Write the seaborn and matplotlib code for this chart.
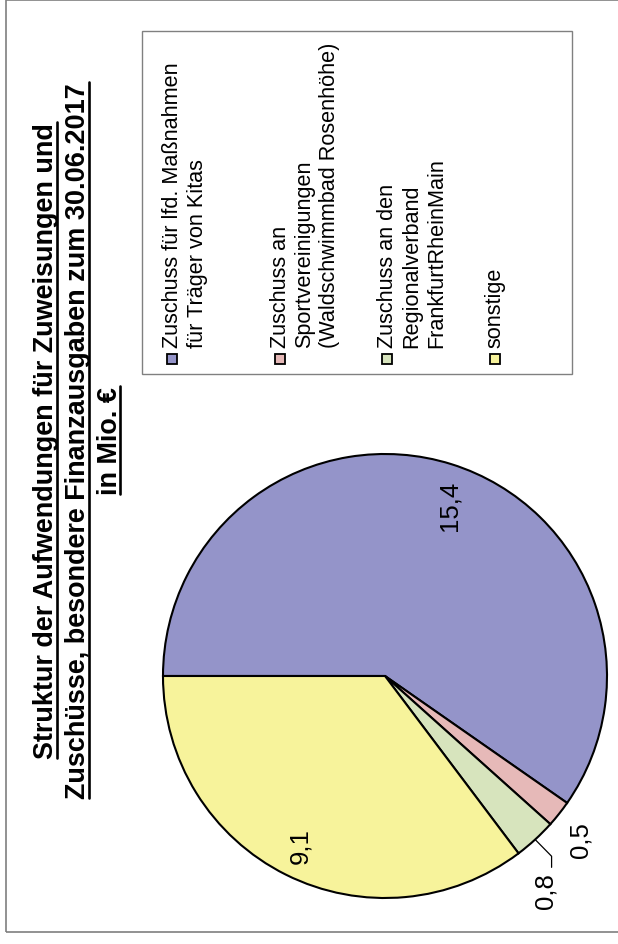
import matplotlib
matplotlib.use("Agg")
import matplotlib.pyplot as plt
import seaborn as sns
import numpy as np
from matplotlib.patches import Rectangle
from matplotlib.lines import Line2D
from matplotlib import font_manager

# ---------------- data ----------------
categories = [
    "Zuschuss für lfd. Maßnahmen\nfür Träger von Kitas",
    "Zuschuss an\nSportvereinigungen\n(Waldschwimmbad Rosenhöhe)",
    "Zuschuss an den\nRegionalverband\nFrankfurtRheinMain",
    "sonstige",
]
values = [15.4, 0.5, 0.8, 9.1]
value_labels = ["15,4", "0,5", "0,8", "9,1"]
title_lines = [
    "Struktur der Aufwendungen für Zuweisungen und",
    "Zuschüsse, besondere Finanzausgaben zum 30.06.2017",
    "in Mio. €",
]

# ---------------- style ----------------
colors = ["#9494C9", "#E6B9B8", "#D7E4BD", "#F7F39B"]
label_radius = [0.824, 1.145, 1.206, 0.852]
label_angle_offset = [-3.3, -1.4, -5.7, -0.2]

sns.set_theme(style="white")
names = {f.name for f in font_manager.fontManager.ttflist}
body_font = ["Liberation Sans", "DejaVu Sans"]
title_font = (["Liberation Sans Narrow"] if "Liberation Sans Narrow" in names else []) + body_font
plt.rcParams["font.family"] = body_font
plt.rcParams["text.color"] = "black"

W, H = 618, 945
fig = plt.figure(figsize=(W / 100, H / 100), dpi=100)
fig.patch.set_facecolor("white")


def fx(x):
    return x / W


def fy(y):
    return 1 - y / H


# outer frame
fig.add_artist(Rectangle((fx(5.5), fy(933)), fx(640) - fx(5.5), fy(0.5) - fy(933),
                         transform=fig.transFigure, fill=False, edgecolor="#7f7f7f", lw=1.2))

# ---------------- pie ----------------
cx, cy, R = 385, 677, 222
half = 1.25 * R
ax = fig.add_axes([fx(cx - half), fy(cy + half), 2 * half / W, 2 * half / H])
wedges, _ = ax.pie(values, colors=colors, startangle=180, counterclock=False,
                   wedgeprops=dict(edgecolor="black", linewidth=1.5))
for i, w in enumerate(wedges):
    mid = np.deg2rad((w.theta1 + w.theta2) / 2 + label_angle_offset[i])
    r = label_radius[i]
    lx, ly = r * np.cos(mid), r * np.sin(mid)
    ax.text(lx, ly, value_labels[i], rotation=90, ha="center", va="center",
            fontsize=18.5, color="black")
    if r > 1.18:
        m0 = np.deg2rad((w.theta1 + w.theta2) / 2)
        sx, sy = np.cos(m0), np.sin(m0)
        ex, ey = lx + 0.027, ly + 0.153
        ax.plot([sx, ex, ex], [sy, ey, ey - 0.05], color="black", lw=0.9)

# ---------------- title ----------------
baselines = [53, 85, 117]
title_texts = []
for x, t in zip(baselines, title_lines):
    tt = fig.text(fx(x), fy(441), t, rotation=90, rotation_mode="anchor",
                  ha="center", va="baseline", fontsize=20, fontweight="bold",
                  family=title_font, color="black")
    title_texts.append(tt)
fig.canvas.draw()
r = fig.canvas.get_renderer()
ext = title_texts[1].get_window_extent(r)
scale = 715 / ext.height
for tt in title_texts:
    tt.set_fontsize(20 * scale)
fig.canvas.draw()
for x, tt in zip(baselines, title_texts):
    bb = tt.get_window_extent(r)
    ux = x + 3.5
    fig.add_artist(Line2D([fx(ux), fx(ux)], [bb.y0 / H, bb.y1 / H],
                          transform=fig.transFigure, color="black", lw=1.9))

# ---------------- legend ----------------
fig.add_artist(Rectangle((fx(142), fy(375)), fx(572) - fx(142), fy(32) - fy(375),
                         transform=fig.transFigure, fill=False, edgecolor="#808080", lw=1.0))
for i, (lab, c) in enumerate(zip(categories, colors)):
    top = 162 + i * 107.5
    fig.add_artist(Rectangle((fx(top + 5), fy(365)), 10 / W, 10 / H,
                             transform=fig.transFigure, facecolor=c,
                             edgecolor="black", lw=1.3))
    fig.text(fx(top), fy(348), lab, rotation=90, rotation_mode="anchor",
             ha="left", va="top", fontsize=15.6, linespacing=1.22, color="black")

fig.savefig("out.png", dpi=100)
